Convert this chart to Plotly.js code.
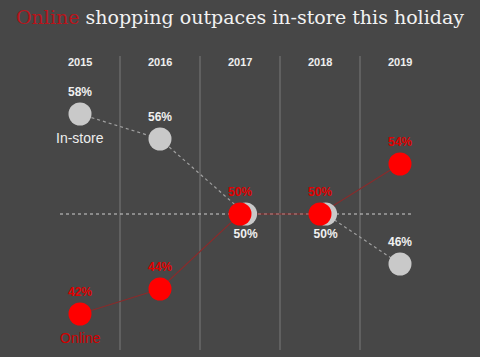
<!DOCTYPE html>
<html><head><meta charset="utf-8">
<script src="https://cdn.plot.ly/plotly-3.0.1.min.js"></script>
<style>html,body{margin:0;padding:0;background:#474747;}</style>
</head><body><div id="chart" style="width:480px;height:357px;"></div>
<script>
const years = ['2015','2016','2017','2018','2019'];
const inStore = [58, 56, 50, 50, 46];
const online = [42, 44, 50, 50, 54];
const parityLevel = 50;

const xi = years.map((_, i) => i);
// where the two series tie, nudge the in-store dot right so it peeks out behind the online dot
const xStore = xi.map((x, i) => inStore[i] === online[i] ? x + 0.07 : x);
const storePos = inStore.map((v, i) => v === online[i] ? 'bottom center' : 'top center');

const traces = [
  {x: xStore, y: inStore, type: 'scatter', mode: 'lines',
   line: {color: '#a0a0a0', width: 1.2, dash: 'dot'}, hoverinfo: 'skip', showlegend: false},
  {x: xi, y: online, type: 'scatter', mode: 'lines',
   line: {color: '#8a2b2b', width: 1.2}, hoverinfo: 'skip', showlegend: false},
  {x: xStore, y: inStore, type: 'scatter', mode: 'markers+text',
   marker: {size: 23, color: '#c9c9c9'},
   text: inStore.map(v => '<b>' + v + '%</b>'), textposition: storePos,
   textfont: {family: 'Liberation Sans, Arial', size: 12, color: '#f0f0f0'},
   showlegend: false, cliponaxis: false},
  {x: xi, y: online, type: 'scatter', mode: 'markers+text',
   marker: {size: 23, color: '#ff0000'},
   text: online.map(v => '<b>' + v + '%</b>'), textposition: 'top center',
   textfont: {family: 'Liberation Sans, Arial', size: 12, color: '#e00000'},
   showlegend: false, cliponaxis: false}
];

const shapes = years.slice(0, -1).map((_, i) => ({
  type: 'line', xref: 'x', yref: 'paper', x0: i + 0.5, x1: i + 0.5, y0: 0, y1: 1,
  line: {color: '#7a7a7a', width: 1}, layer: 'below'
}));
shapes.push({type: 'line', xref: 'x', yref: 'y', x0: -0.25, x1: 4.15, y0: parityLevel, y1: parityLevel,
  line: {color: '#cfcfcf', width: 1, dash: '3px,3px'}, layer: 'below'});

const annotations = years.map((yr, i) => ({
  x: i, y: 1, xref: 'x', yref: 'paper', yshift: 2, showarrow: false,
  text: '<b>' + yr + '</b>', font: {family: 'Liberation Sans, Arial', size: 11, color: '#eeeeee'}
}));
annotations.push({x: 0, y: inStore[0], xref: 'x', yref: 'y', yshift: -24, showarrow: false,
  text: 'In-store', font: {family: 'Liberation Sans, Arial', size: 14, color: '#eeeeee'}});
annotations.push({x: 0, y: online[0], xref: 'x', yref: 'y', yshift: -24, showarrow: false,
  text: 'Online', font: {family: 'Liberation Sans, Arial', size: 14, color: '#d00000'}});

const layout = {
  width: 480, height: 357,
  paper_bgcolor: '#474747', plot_bgcolor: '#474747',
  margin: {l: 40, r: 40, t: 56, b: 7},
  title: {text: '<span style="color:#b8141b">Online</span> shopping outpaces in-store this holiday',
    font: {family: 'DejaVu Serif, Liberation Serif, serif', size: 19, color: '#f2f2f2'},
    x: 0.5, xanchor: 'center', y: 0.952, yanchor: 'middle'},
  xaxis: {range: [-0.5, 4.5], showgrid: false, zeroline: false, showticklabels: false, showline: false, fixedrange: true},
  yaxis: {range: [39.12, 62.64], showgrid: false, zeroline: false, showticklabels: false, showline: false, fixedrange: true},
  shapes: shapes, annotations: annotations, showlegend: false
};
Plotly.newPlot('chart', traces, layout, {displayModeBar: false, staticPlot: true});
</script></body></html>
